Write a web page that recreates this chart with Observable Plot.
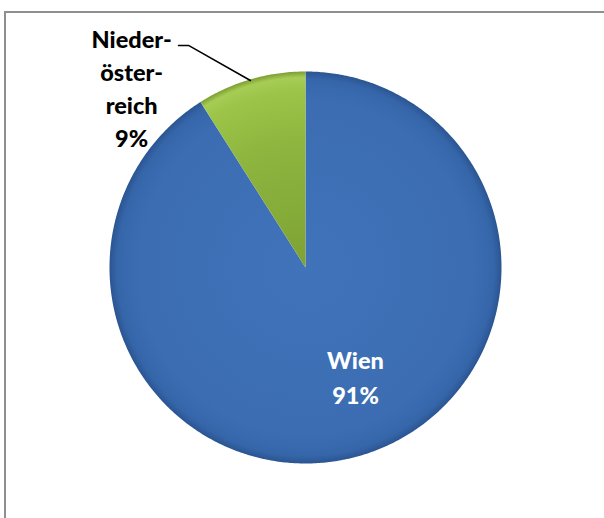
<!DOCTYPE html>
<html><head><meta charset="utf-8">
<script src="https://cdn.jsdelivr.net/npm/d3@7"></script>
<script src="https://cdn.jsdelivr.net/npm/@observablehq/plot@0.6"></script>
<style>
html,body{margin:0;padding:0;background:#fff;overflow:hidden}
#frame{position:absolute;left:4px;top:11px;width:640px;height:560px;border:2px solid #8f8f8f;box-sizing:border-box}
#chart{position:absolute;left:0;top:0}
</style></head>
<body><div id="frame"></div><div id="chart"></div>
<script>
const categories = ["Wien", "Nieder-\nöster-\nreich"];
const shares = [91, 9];
const labels = ["Wien\n91%", "Nieder-\nöster-\nreich\n9%"];

const total = d3.sum(shares);
const pts = [];
let start = 0;
[0, 1].forEach(i => {
  const a0 = start, a1 = start + shares[i] / total * 2 * Math.PI;
  const n = Math.max(4, Math.ceil((a1 - a0) / 0.01));
  pts.push({slice: i, x: 0, y: 0});
  for (let k = 0; k <= n; k++) {
    const a = a0 + (a1 - a0) * k / n;
    pts.push({slice: i, x: Math.sin(a), y: Math.cos(a)});
  }
  start = a1;
});

const W = 604, H = 518;
const cx = 305, cy = 267, R = 196;
const plot = Plot.plot({
  width: W, height: H,
  marginLeft: cx - R, marginRight: W - (cx + R),
  marginTop: cy - R, marginBottom: H - (cy + R),
  x: {domain: [-1, 1], axis: null},
  y: {domain: [-1, 1], axis: null},
  style: {background: "transparent", overflow: "visible"},
  marks: [
    Plot.line(pts.filter(d => d.slice === 0), {x: "x", y: "y", fill: "#3d6db3", stroke: "none", curve: "linear-closed", className: "s0"}),
    Plot.line(pts.filter(d => d.slice === 1), {x: "x", y: "y", fill: "#8cb43e", stroke: "none", curve: "linear-closed", className: "s1"}),
    Plot.line([{x: -0.648, y: 1.133}, {x: -0.597, y: 1.133}, {x: -0.281, y: 0.954}], {x: "x", y: "y", stroke: "#000", strokeWidth: 1.5}),
    Plot.text([labels[0]], {x: 0.255, y: -0.548, text: d => d, fill: "#fff", fontSize: 23.5, fontWeight: 900, lineHeight: 1.5, fontFamily: "Lato"}),
    Plot.text([labels[1]], {x: -0.887, y: 0.92, text: d => d, fill: "#000", fontSize: 23.5, fontWeight: 900, lineHeight: 1.4, fontFamily: "Lato"})
  ]
});
document.getElementById("chart").appendChild(plot);

const svg = d3.select(plot);
const defs = svg.insert("defs", ":first-child");
const gb = defs.append("radialGradient").attr("id", "gBlue").attr("gradientUnits", "userSpaceOnUse")
  .attr("cx", cx).attr("cy", cy).attr("r", R);
[[0, "#4073ba"], [0.85, "#3c6db3"], [0.96, "#3666aa"], [1, "#2b5592"]].forEach(([o, c]) => gb.append("stop").attr("offset", o).attr("stop-color", c));
const gg = defs.append("radialGradient").attr("id", "gGreen").attr("gradientUnits", "userSpaceOnUse")
  .attr("cx", cx).attr("cy", cy).attr("r", R);
[[0, "#7ea234"], [0.6, "#8cb43e"], [0.9, "#9cc448"], [0.97, "#a6cc55"], [1, "#7c9e32"]].forEach(([o, c]) => gg.append("stop").attr("offset", o).attr("stop-color", c));
svg.selectAll(".s0 path").attr("fill", "url(#gBlue)");
svg.selectAll(".s1 path").attr("fill", "url(#gGreen)");
</script></body></html>
